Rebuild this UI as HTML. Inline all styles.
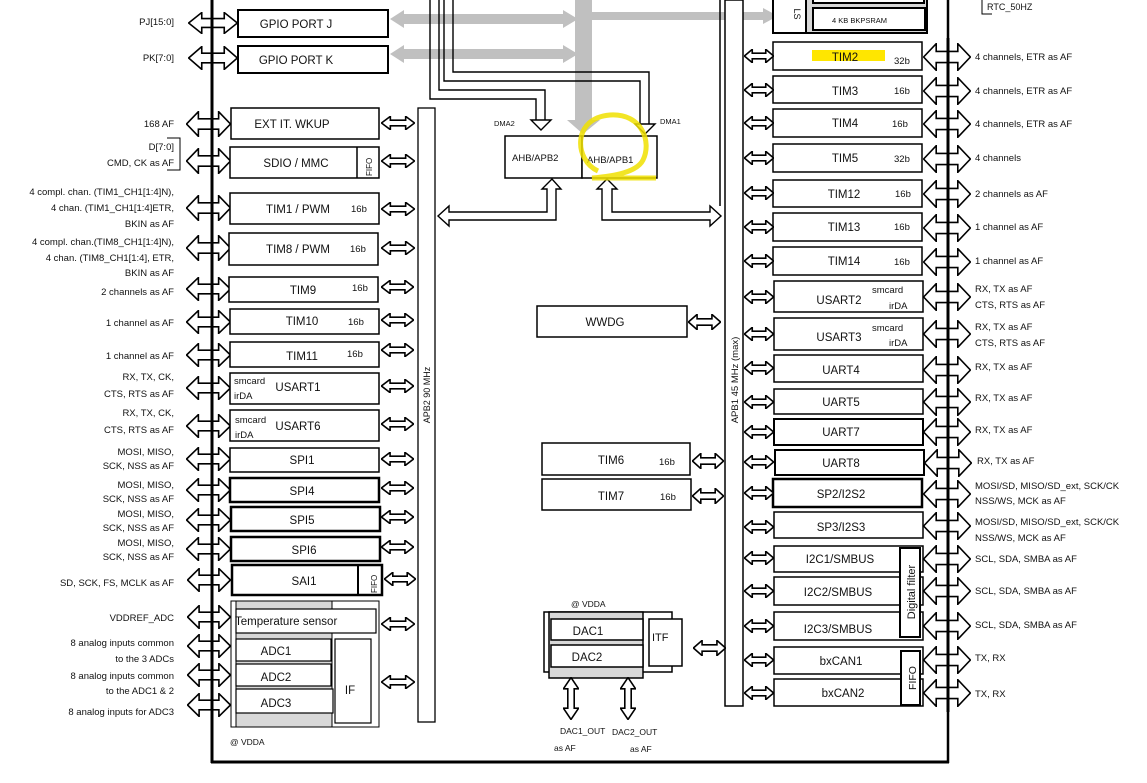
<!DOCTYPE html>
<html><head><meta charset="utf-8"><style>
html,body{margin:0;padding:0;background:#fff;}
svg{display:block;font-family:"Liberation Sans",sans-serif;}
.b{fill:#fff;stroke:#000;stroke-width:2}
.bt{fill:#fff;stroke:#000;stroke-width:3}
.t{font-size:11.5px;fill:#111;text-anchor:middle}
.s{font-size:9.5px;fill:#111}
.l{font-size:9.5px;fill:#111;text-anchor:end}
.r{font-size:9.5px;fill:#111}
</style></head><body>
<svg width="1147" height="783" viewBox="0 0 1147 783" xmlns="http://www.w3.org/2000/svg">
<defs>
<symbol id="da" viewBox="0 0 40 20" preserveAspectRatio="none">
<path d="M0.5,10 L11,0.5 L11,6 L29,6 L29,0.5 L39.5,10 L29,19.5 L29,14 L11,14 L11,19.5 Z" fill="#fff" stroke="#000" stroke-width="1.6" vector-effect="non-scaling-stroke"/>
</symbol>
<symbol id="dv" viewBox="0 0 20 40" preserveAspectRatio="none">
<path d="M10,0.5 L0.5,11 L6,11 L6,29 L0.5,29 L10,39.5 L19.5,29 L14,29 L14,11 L19.5,11 Z" fill="#fff" stroke="#000" stroke-width="1.6" vector-effect="non-scaling-stroke"/>
</symbol>
</defs>

<g fill="#c0c0c0">
<rect x="575" y="0" width="17" height="122"/>
<path d="M567,120 L600,120 L583,134 Z"/>
<rect x="402" y="14" width="165" height="10"/>
<path d="M390,19 L404,10 L404,28 Z M578,19 L563,10 L563,28 Z"/>
<rect x="402" y="49" width="165" height="10"/>
<path d="M390,54 L404,45 L404,63 Z M578,54 L563,45 L563,63 Z"/>
<rect x="592" y="12" width="128" height="8"/>
<rect x="720" y="12" width="45" height="8"/>
<path d="M778,16 L763,8 L763,24 Z"/>
</g>

<g fill="none" stroke="#000" stroke-width="1.4">
<path d="M430,0 L430,99 L536,99 L536,120"/>
<path d="M439,0 L439,90 L545,90 L545,120"/>
<path d="M444,0 L444,81 L640,81 L640,124"/>
<path d="M453,0 L453,72 L649,72 L649,124"/>
</g>
<path d="M531,120 L551,120 L541,130 Z" fill="#fff" stroke="#000" stroke-width="1.4"/>
<path d="M635,124 L655,124 L645,134 Z" fill="#fff" stroke="#000" stroke-width="1.4"/>
<text x="494" y="126" style="font-size:7.5px;fill:#111">DMA2</text>
<text x="660" y="124" style="font-size:7.5px;fill:#111">DMA1</text>

<rect x="505" y="136" width="77" height="42" class="b" style="stroke-width:1.5"/>
<rect x="582" y="136" width="75" height="42" class="b" style="stroke-width:1.5"/>
<text x="512" y="161" class="s">AHB/APB2</text>
<text x="587" y="163" class="s">AHB/APB1</text>

<path d="M552,179 L542,189 L547,189 L547,212 L449,212 L449,206 L438,216 L449,226 L449,220 L556,220 L556,189 L561,189 Z" fill="#fff" stroke="#000" stroke-width="1.4"/>
<path d="M607,179 L597,189 L602,189 L602,220 L710,220 L710,226 L721,216 L710,206 L710,212 L612,212 L612,189 L617,189 Z" fill="#fff" stroke="#000" stroke-width="1.4"/>

<line x1="720" y1="0" x2="720" y2="206" stroke="#000" stroke-width="1.5"/>

<rect x="418" y="108" width="17" height="614" class="b" style="stroke-width:1.3"/>
<text transform="translate(430,395) rotate(-90)" style="font-size:9px;fill:#111" text-anchor="middle">APB2 90 MHz</text>
<rect x="725" y="0" width="18" height="706" class="b" style="stroke-width:1.5"/>
<text transform="translate(738,380) rotate(-90)" style="font-size:9.5px;fill:#111" text-anchor="middle">APB1 45 MHz (max)</text>

<rect x="238" y="10" width="150" height="27" class="b"/>
<text x="296" y="28" class="t">GPIO PORT J</text>
<rect x="238" y="46" width="150" height="27" class="b"/>
<text x="296" y="64" class="t">GPIO PORT K</text>

<g>
<use href="#da" x="188" y="12" width="50" height="22"/>
<use href="#da" x="188" y="46" width="50" height="24"/>
<use href="#da" x="186" y="111" width="45" height="26"/>
<use href="#da" x="186" y="148" width="45" height="26"/>
<use href="#da" x="186" y="195" width="45" height="26"/>
<use href="#da" x="186" y="235" width="45" height="26"/>
<use href="#da" x="186" y="277" width="45" height="24"/>
<use href="#da" x="186" y="310" width="45" height="24"/>
<use href="#da" x="186" y="343" width="45" height="24"/>
<use href="#da" x="186" y="376" width="45" height="24"/>
<use href="#da" x="186" y="414" width="45" height="24"/>
<use href="#da" x="186" y="447" width="45" height="24"/>
<use href="#da" x="186" y="478" width="45" height="24"/>
<use href="#da" x="186" y="508" width="45" height="24"/>
<use href="#da" x="186" y="537" width="45" height="24"/>
<use href="#da" x="187" y="568" width="44" height="24"/>
<use href="#da" x="187" y="605" width="44" height="24"/>
<use href="#da" x="187" y="634" width="44" height="24"/>
<use href="#da" x="187" y="663" width="44" height="24"/>
<use href="#da" x="187" y="693" width="44" height="24"/>
</g>
<line x1="212" y1="0" x2="212" y2="763" stroke="#000" stroke-width="3"/>
<line x1="211" y1="762" x2="949" y2="762" stroke="#000" stroke-width="3"/>
<line x1="948" y1="0" x2="948" y2="763" stroke="#000" stroke-width="2.5"/>

<g>
<text x="174" y="25" class="l">PJ[15:0]</text>
<text x="174" y="61" class="l">PK[7:0]</text>
<text x="174" y="127" class="l">168 AF</text>
<text x="174" y="150" class="l">D[7:0]</text>
<text x="174" y="166" class="l">CMD, CK as AF</text>
<text x="174" y="195" class="l">4 compl. chan. (TIM1_CH1[1:4]N),</text>
<text x="174" y="211" class="l">4 chan. (TIM1_CH1[1:4]ETR,</text>
<text x="174" y="227" class="l">BKIN as AF</text>
<text x="174" y="245" class="l">4 compl. chan.(TIM8_CH1[1:4]N),</text>
<text x="174" y="261" class="l">4 chan. (TIM8_CH1[1:4], ETR,</text>
<text x="174" y="276" class="l">BKIN as AF</text>
<text x="174" y="295" class="l">2 channels as AF</text>
<text x="174" y="326" class="l">1 channel as AF</text>
<text x="174" y="359" class="l">1 channel as AF</text>
<text x="174" y="380" class="l">RX, TX, CK,</text>
<text x="174" y="397" class="l">CTS, RTS as AF</text>
<text x="174" y="416" class="l">RX, TX, CK,</text>
<text x="174" y="433" class="l">CTS, RTS as AF</text>
<text x="174" y="455" class="l">MOSI, MISO,</text>
<text x="174" y="469" class="l">SCK, NSS as AF</text>
<text x="174" y="488" class="l">MOSI, MISO,</text>
<text x="174" y="502" class="l">SCK, NSS as AF</text>
<text x="174" y="517" class="l">MOSI, MISO,</text>
<text x="174" y="531" class="l">SCK, NSS as AF</text>
<text x="174" y="546" class="l">MOSI, MISO,</text>
<text x="174" y="560" class="l">SCK, NSS as AF</text>
<text x="174" y="586" class="l">SD, SCK, FS, MCLK as AF</text>
<text x="174" y="621" class="l">VDDREF_ADC</text>
<text x="174" y="646" class="l">8 analog inputs common</text>
<text x="174" y="662" class="l">to the 3 ADCs</text>
<text x="174" y="679" class="l">8 analog inputs common</text>
<text x="174" y="694" class="l">to the ADC1 &amp; 2</text>
<text x="174" y="715" class="l">8 analog inputs for ADC3</text>
</g>
<path d="M167,138 L180,138 L180,170 L167,170" fill="none" stroke="#000" stroke-width="1"/>

<rect x="231" y="108" width="148" height="31" class="b" style="stroke-width:1.5"/>
<text x="292" y="128" class="t">EXT IT. WKUP</text>
<rect x="230" y="147" width="149" height="31" class="b" style="stroke-width:1.5"/>
<line x1="357" y1="147" x2="357" y2="178" stroke="#000" stroke-width="1.5"/>
<text x="296" y="167" class="t">SDIO / MMC</text>
<text transform="translate(372,176) rotate(-90)" style="font-size:8px;fill:#111">FIFO</text>
<rect x="230" y="193" width="149" height="31" class="b" style="stroke-width:1.5"/>
<text x="298" y="213" class="t">TIM1 / PWM</text><text x="351" y="212" class="s">16b</text>
<rect x="229" y="233" width="149" height="32" class="b" style="stroke-width:1.5"/>
<text x="298" y="253" class="t">TIM8 / PWM</text><text x="350" y="252" class="s">16b</text>
<rect x="229" y="277" width="149" height="25" class="b" style="stroke-width:1.5"/>
<text x="303" y="294" class="t">TIM9</text><text x="352" y="291" class="s">16b</text>
<rect x="230" y="309" width="149" height="25" class="b" style="stroke-width:1.5"/>
<text x="302" y="325" class="t">TIM10</text><text x="348" y="325" class="s">16b</text>
<rect x="230" y="342" width="149" height="25" class="b" style="stroke-width:1.5"/>
<text x="302" y="360" class="t">TIM11</text><text x="347" y="357" class="s">16b</text>
<rect x="230" y="373" width="149" height="31" class="b" style="stroke-width:1.5"/>
<text x="298" y="391" class="t">USART1</text><text x="234" y="384" class="s">smcard</text><text x="234" y="399" class="s">irDA</text>
<rect x="230" y="410" width="149" height="31" class="b" style="stroke-width:1.5"/>
<text x="298" y="430" class="t">USART6</text><text x="235" y="423" class="s">smcard</text><text x="235" y="438" class="s">irDA</text>
<rect x="230" y="448" width="149" height="24" class="b" style="stroke-width:1.5"/>
<text x="302" y="464" class="t">SPI1</text>
<rect x="230" y="478" width="149" height="24" class="bt" style="stroke-width:2.5"/>
<text x="302" y="495" class="t">SPI4</text>
<rect x="231" y="507" width="149" height="24" class="bt" style="stroke-width:2.5"/>
<text x="302" y="524" class="t">SPI5</text>
<rect x="231" y="537" width="149" height="24" class="bt" style="stroke-width:2.5"/>
<text x="304" y="554" class="t">SPI6</text>
<rect x="232" y="565" width="150" height="30" class="bt" style="stroke-width:2.5"/>
<line x1="358" y1="565" x2="358" y2="595" stroke="#000" stroke-width="2"/>
<text x="304" y="585" class="t">SAI1</text>
<text transform="translate(377,593) rotate(-90)" style="font-size:8px;fill:#111">FIFO</text>

<rect x="231" y="601" width="148" height="126" fill="#fff" stroke="#000" stroke-width="1"/>
<rect x="236" y="601" width="96" height="126" fill="#d8d8d8" stroke="#000" stroke-width="1"/>
<rect x="236" y="609" width="140" height="24" class="b" style="stroke-width:1.2"/>
<text x="235" y="625" style="font-size:11.5px;fill:#111">Temperature sensor</text>
<rect x="236" y="639" width="95" height="22" class="b" style="stroke-width:1.2"/>
<text x="276" y="655" class="t">ADC1</text>
<rect x="236" y="664" width="95" height="22" class="b" style="stroke-width:1.2"/>
<text x="276" y="681" class="t">ADC2</text>
<rect x="236" y="689" width="97" height="24" class="b" style="stroke-width:1.2"/>
<text x="276" y="707" class="t">ADC3</text>
<rect x="335" y="639" width="36" height="84" class="b" style="stroke-width:1.2"/>
<text x="350" y="694" class="t">IF</text>
<text x="230" y="745" style="font-size:8.5px;fill:#111">@ VDDA</text>

<g>
<use href="#da" x="381" y="116" width="34" height="14"/>
<use href="#da" x="381" y="154" width="34" height="14"/>
<use href="#da" x="381" y="202" width="34" height="14"/>
<use href="#da" x="381" y="241" width="34" height="14"/>
<use href="#da" x="381" y="280" width="33" height="14"/>
<use href="#da" x="381" y="313" width="33" height="14"/>
<use href="#da" x="381" y="343" width="33" height="14"/>
<use href="#da" x="381" y="379" width="33" height="14"/>
<use href="#da" x="381" y="417" width="33" height="14"/>
<use href="#da" x="381" y="452" width="33" height="14"/>
<use href="#da" x="381" y="481" width="33" height="14"/>
<use href="#da" x="381" y="510" width="33" height="14"/>
<use href="#da" x="381" y="540" width="33" height="14"/>
<use href="#da" x="384" y="572" width="32" height="14"/>
<use href="#da" x="381" y="617" width="34" height="14"/>
<use href="#da" x="381" y="675" width="34" height="14"/>
</g>

<rect x="537" y="306" width="150" height="31" class="b" style="stroke-width:1.5"/>
<text x="605" y="326" class="t">WWDG</text>
<use href="#da" x="688" y="314" width="33" height="16"/>
<rect x="542" y="443" width="148" height="32" class="b" style="stroke-width:1.5"/>
<text x="611" y="464" class="t">TIM6</text><text x="659" y="465" class="s">16b</text>
<rect x="542" y="479" width="149" height="31" class="b" style="stroke-width:1.5"/>
<text x="611" y="500" class="t">TIM7</text><text x="660" y="500" class="s">16b</text>
<use href="#da" x="692" y="453" width="32" height="16"/>
<use href="#da" x="692" y="488" width="32" height="16"/>

<text x="571" y="607" style="font-size:8.5px;fill:#111">@ VDDA</text>
<rect x="544" y="612" width="128" height="60" class="b" style="stroke-width:1.5"/>
<rect x="549" y="612" width="94" height="66" fill="#d8d8d8" stroke="#000" stroke-width="1.5"/>
<rect x="551" y="619" width="92" height="21" class="b" style="stroke-width:1.5"/>
<text x="588" y="635" class="t">DAC1</text>
<rect x="551" y="645" width="92" height="22" class="b" style="stroke-width:1.5"/>
<text x="587" y="661" class="t">DAC2</text>
<rect x="649" y="619" width="33" height="47" class="b" style="stroke-width:1.5"/>
<text x="652" y="641" style="font-size:11px;fill:#111">ITF</text>
<use href="#da" x="693" y="640" width="33" height="16"/>
<use href="#dv" x="563" y="677" width="16" height="43"/>
<use href="#dv" x="620" y="677" width="16" height="43"/>
<text x="560" y="734" style="font-size:8.5px;fill:#111">DAC1_OUT</text>
<text x="554" y="751" style="font-size:8.5px;fill:#111">as AF</text>
<text x="612" y="735" style="font-size:8.5px;fill:#111">DAC2_OUT</text>
<text x="630" y="752" style="font-size:8.5px;fill:#111">as AF</text>

<rect x="773" y="-2" width="154" height="35" fill="#d8d8d8" stroke="#000" stroke-width="2"/>
<rect x="773" y="-2" width="33" height="35" fill="#fff" stroke="#000" stroke-width="2"/>
<text transform="translate(794,14) rotate(90)" style="font-size:9px;fill:#111" text-anchor="middle">LS</text>
<rect x="813" y="-5" width="111" height="8" fill="#fff" stroke="#000" stroke-width="2"/>
<rect x="813" y="8" width="112" height="22" fill="#fff" stroke="#000" stroke-width="2"/>
<text x="832" y="23" style="font-size:7.5px;fill:#111">4 KB BKPSRAM</text>
<path d="M982,0 L982,14 L992,14" fill="none" stroke="#000" stroke-width="1"/>
<text x="987" y="10" style="font-size:9px;fill:#111">RTC_50HZ</text>

<g>
<rect x="773" y="42" width="149" height="28" class="b" style="stroke-width:1.5"/>
<rect x="812" y="50" width="73" height="11" fill="#ffe600"/>
<text x="845" y="61" class="t">TIM2</text><text x="894" y="64" class="s">32b</text>
<rect x="773" y="76" width="149" height="27" class="b" style="stroke-width:1.5"/>
<text x="845" y="95" class="t">TIM3</text><text x="894" y="94" class="s">16b</text>
<rect x="773" y="109" width="149" height="28" class="b" style="stroke-width:1.5"/>
<text x="845" y="127" class="t">TIM4</text><text x="892" y="127" class="s">16b</text>
<rect x="773" y="144" width="149" height="28" class="b" style="stroke-width:1.5"/>
<text x="845" y="162" class="t">TIM5</text><text x="894" y="162" class="s">32b</text>
<rect x="773" y="180" width="149" height="27" class="b" style="stroke-width:1.5"/>
<text x="844" y="198" class="t">TIM12</text><text x="895" y="197" class="s">16b</text>
<rect x="773" y="213" width="149" height="28" class="b" style="stroke-width:1.5"/>
<text x="844" y="231" class="t">TIM13</text><text x="894" y="230" class="s">16b</text>
<rect x="773" y="247" width="149" height="28" class="b" style="stroke-width:1.5"/>
<text x="844" y="265" class="t">TIM14</text><text x="894" y="265" class="s">16b</text>
<rect x="774" y="281" width="149" height="31" class="b" style="stroke-width:1.5"/>
<text x="839" y="304" class="t">USART2</text><text x="872" y="293" class="s">smcard</text><text x="889" y="309" class="s">irDA</text>
<rect x="774" y="318" width="149" height="32" class="b" style="stroke-width:1.5"/>
<text x="839" y="341" class="t">USART3</text><text x="872" y="331" class="s">smcard</text><text x="889" y="346" class="s">irDA</text>
<rect x="774" y="355" width="149" height="27" class="b" style="stroke-width:1.5"/>
<text x="841" y="374" class="t">UART4</text>
<rect x="774" y="389" width="149" height="25" class="b" style="stroke-width:1.5"/>
<text x="841" y="406" class="t">UART5</text>
<rect x="774" y="419" width="149" height="26" class="b" style="stroke-width:2"/>
<text x="841" y="436" class="t">UART7</text>
<rect x="775" y="450" width="149" height="25" class="b" style="stroke-width:2"/>
<text x="841" y="467" class="t">UART8</text>
<rect x="773" y="479" width="149" height="28" class="b" style="stroke-width:2.5"/>
<text x="841" y="498" class="t">SP2/I2S2</text>
<rect x="774" y="512" width="149" height="26" class="b" style="stroke-width:1.5"/>
<text x="841" y="531" class="t">SP3/I2S3</text>
<rect x="774" y="546" width="149" height="26" class="b" style="stroke-width:1.5"/>
<text x="840" y="563" class="t">I2C1/SMBUS</text>
<rect x="774" y="577" width="149" height="28" class="b" style="stroke-width:1.5"/>
<text x="838" y="596" class="t">I2C2/SMBUS</text>
<rect x="774" y="612" width="149" height="28" class="b" style="stroke-width:1.5"/>
<text x="838" y="633" class="t">I2C3/SMBUS</text>
<rect x="900" y="548" width="20" height="89" class="b" style="stroke-width:2"/>
<text transform="translate(915,592) rotate(-90)" style="font-size:11px;fill:#111" text-anchor="middle">Digital filter</text>
<rect x="774" y="647" width="149" height="27" class="b" style="stroke-width:1.5"/>
<text x="841" y="665" class="t">bxCAN1</text>
<rect x="774" y="679" width="149" height="27" class="b" style="stroke-width:1.5"/>
<text x="843" y="697" class="t">bxCAN2</text>
<rect x="901" y="651" width="19" height="54" class="b" style="stroke-width:2"/>
<text transform="translate(916,678) rotate(-90)" style="font-size:10.5px;fill:#111" text-anchor="middle">FIFO</text>
</g>

<g>
<use href="#da" x="744" y="49" width="30" height="14"/>
<use href="#da" x="744" y="83" width="30" height="14"/>
<use href="#da" x="744" y="116" width="30" height="14"/>
<use href="#da" x="744" y="151" width="30" height="14"/>
<use href="#da" x="744" y="186" width="30" height="14"/>
<use href="#da" x="744" y="220" width="30" height="14"/>
<use href="#da" x="744" y="254" width="30" height="14"/>
<use href="#da" x="744" y="290" width="30" height="14"/>
<use href="#da" x="744" y="327" width="30" height="14"/>
<use href="#da" x="744" y="361" width="30" height="14"/>
<use href="#da" x="744" y="395" width="30" height="14"/>
<use href="#da" x="744" y="425" width="30" height="14"/>
<use href="#da" x="744" y="455" width="30" height="14"/>
<use href="#da" x="744" y="486" width="30" height="14"/>
<use href="#da" x="744" y="520" width="30" height="14"/>
<use href="#da" x="744" y="551" width="30" height="14"/>
<use href="#da" x="744" y="584" width="30" height="14"/>
<use href="#da" x="744" y="619" width="30" height="14"/>
<use href="#da" x="744" y="653" width="30" height="14"/>
<use href="#da" x="744" y="686" width="30" height="14"/>
</g>

<g>
<use href="#da" x="923" y="43" width="48" height="28"/>
<use href="#da" x="923" y="77" width="48" height="28"/>
<use href="#da" x="923" y="110" width="48" height="28"/>
<use href="#da" x="923" y="145" width="48" height="28"/>
<use href="#da" x="923" y="180" width="48" height="28"/>
<use href="#da" x="923" y="214" width="48" height="28"/>
<use href="#da" x="923" y="248" width="48" height="28"/>
<use href="#da" x="923" y="283" width="48" height="28"/>
<use href="#da" x="923" y="320" width="48" height="28"/>
<use href="#da" x="923" y="356" width="48" height="28"/>
<use href="#da" x="923" y="388" width="48" height="28"/>
<use href="#da" x="923" y="418" width="48" height="28"/>
<use href="#da" x="924" y="449" width="48" height="28"/>
<use href="#da" x="923" y="480" width="48" height="28"/>
<use href="#da" x="923" y="512" width="48" height="28"/>
<use href="#da" x="923" y="545" width="48" height="28"/>
<use href="#da" x="923" y="577" width="48" height="28"/>
<use href="#da" x="923" y="612" width="48" height="28"/>
<use href="#da" x="923" y="646" width="48" height="28"/>
<use href="#da" x="923" y="679" width="48" height="28"/>
</g>
<line x1="948" y1="38" x2="948" y2="712" stroke="#000" stroke-width="3"/>

<g>
<text x="975" y="60" class="r">4 channels, ETR as AF</text>
<text x="975" y="94" class="r">4 channels, ETR as AF</text>
<text x="975" y="127" class="r">4 channels, ETR as AF</text>
<text x="975" y="161" class="r">4 channels</text>
<text x="975" y="197" class="r">2 channels as AF</text>
<text x="975" y="230" class="r">1 channel as AF</text>
<text x="975" y="264" class="r">1 channel as AF</text>
<text x="975" y="292" class="r">RX, TX as AF</text>
<text x="975" y="308" class="r">CTS, RTS as AF</text>
<text x="975" y="330" class="r">RX, TX as AF</text>
<text x="975" y="346" class="r">CTS, RTS as AF</text>
<text x="975" y="370" class="r">RX, TX as AF</text>
<text x="975" y="401" class="r">RX, TX as AF</text>
<text x="975" y="433" class="r">RX, TX as AF</text>
<text x="977" y="464" class="r">RX, TX as AF</text>
<text x="975" y="489" class="r">MOSI/SD, MISO/SD_ext, SCK/CK</text>
<text x="975" y="504" class="r">NSS/WS, MCK as AF</text>
<text x="975" y="525" class="r">MOSI/SD, MISO/SD_ext, SCK/CK</text>
<text x="975" y="541" class="r">NSS/WS, MCK as AF</text>
<text x="975" y="562" class="r">SCL, SDA, SMBA as AF</text>
<text x="975" y="594" class="r">SCL, SDA, SMBA as AF</text>
<text x="975" y="628" class="r">SCL, SDA, SMBA as AF</text>
<text x="975" y="661" class="r">TX, RX</text>
<text x="975" y="697" class="r">TX, RX</text>
</g>

<path d="M598,171 C574,160 572,118 610,115 C642,113 652,142 643,160 C637,172 615,176 592,178 L656,178" fill="none" stroke="#f0e000" stroke-width="5" opacity="0.85"/>
</svg>
</body></html>
